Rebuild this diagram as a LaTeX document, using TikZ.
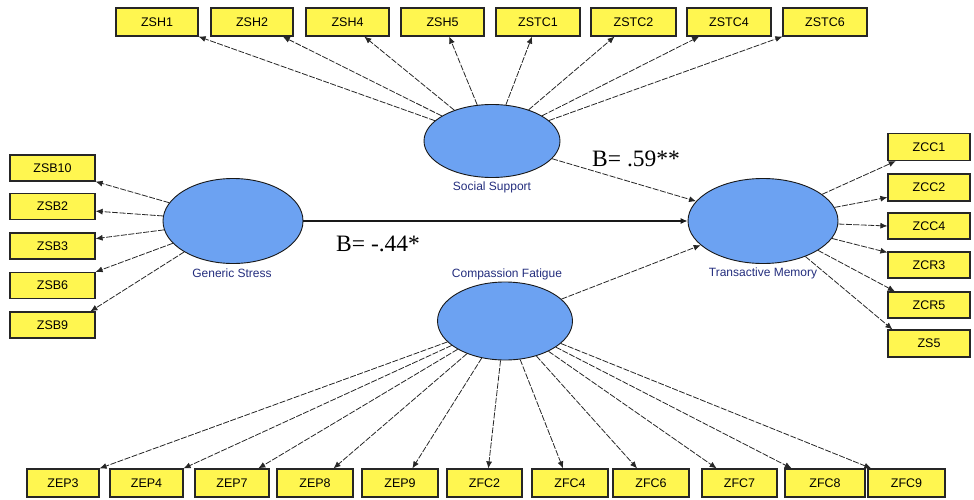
\documentclass[tikz,border=0pt]{standalone}
\usepackage{fontspec}
\setmainfont{Liberation Sans}
\newfontfamily\tnr{Liberation Serif}
\usetikzlibrary{arrows.meta,calc,shapes.geometric}
\definecolor{boxyellow}{RGB}{255,246,80}
\definecolor{ellblue}{RGB}{108,162,242}
\definecolor{lblnavy}{RGB}{35,45,125}
\begin{document}
\begin{tikzpicture}[x=1pt,y=-1pt,
  box/.style={draw=black!85, line width=1.2pt, fill=boxyellow, minimum height=27pt, inner sep=0pt, font=\fontsize{12.5}{12.5}\selectfont},
  lv/.style={draw=black!90, line width=0.9pt, fill=ellblue, ellipse, inner sep=0pt},
  lvlabel/.style={font=\fontsize{12}{12}\selectfont, text=lblnavy, inner sep=0pt},
  coef/.style={font=\tnr\fontsize{23.5}{23.5}\selectfont, inner sep=0pt, anchor=base west},
  ld/.style={draw=black!85, line width=0.8pt, dash pattern=on 6pt off 1.5pt, -{Latex[length=7pt,width=6pt]}},
  path/.style={draw=black!85, line width=0.8pt, dash pattern=on 6pt off 1.5pt, -{Latex[length=7pt,width=6pt]}},
  solidpath/.style={draw=black!90, line width=1.1pt, -{Latex[length=7pt,width=6pt]}}
]
\useasboundingbox (0,0) rectangle (974,500);

% latent variables
\node[lv, minimum width=136pt, minimum height=73pt] (ss) at (492,141) {};
\node[lv, minimum width=140pt, minimum height=85pt] (gs) at (233,221) {};
\node[lv, minimum width=150pt, minimum height=85pt] (tm) at (763,221) {};
\node[lv, minimum width=135pt, minimum height=78pt] (cf) at (505,321) {};

\node[lvlabel] (ssl) at (492,187) {Social Support};
\node[lvlabel] (gsl) at (232,273) {Generic Stress};
\node[lvlabel] (tml) at (763,273) {Transactive Memory};
\node[lvlabel] (cfl) at (507,274) {Compassion Fatigue};

% top indicators
\node[box, minimum width=82pt, minimum height=28pt] (zsh1) at (157,22) {ZSH1};
\node[box, minimum width=82pt, minimum height=28pt] (zsh2) at (252,22) {ZSH2};
\node[box, minimum width=83pt, minimum height=28pt] (zsh4) at (347.5,22) {ZSH4};
\node[box, minimum width=83pt, minimum height=28pt] (zsh5) at (442.5,22) {ZSH5};
\node[box, minimum width=84pt, minimum height=28pt] (zstc1) at (538,22) {ZSTC1};
\node[box, minimum width=85pt, minimum height=28pt] (zstc2) at (633.5,22) {ZSTC2};
\node[box, minimum width=84pt, minimum height=28pt] (zstc4) at (729,22) {ZSTC4};
\node[box, minimum width=84pt, minimum height=28pt] (zstc6) at (825,22) {ZSTC6};

% left indicators
\node[box, minimum width=85pt, minimum height=26pt] (zsb10) at (52.5,168) {ZSB10};
\node[box, minimum width=85pt, minimum height=26pt] (zsb2) at (52.5,206.5) {ZSB2};
\node[box, minimum width=85pt, minimum height=26pt] (zsb3) at (52.5,246) {ZSB3};
\node[box, minimum width=85pt, minimum height=26pt] (zsb6) at (52.5,285.5) {ZSB6};
\node[box, minimum width=85pt, minimum height=26pt] (zsb9) at (52.5,325) {ZSB9};

% right indicators
\node[box, minimum width=82pt, minimum height=27pt] (zcc1) at (929,147) {ZCC1};
\node[box, minimum width=82pt, minimum height=27pt] (zcc2) at (929,187.5) {ZCC2};
\node[box, minimum width=82pt, minimum height=26pt] (zcc4) at (929,226) {ZCC4};
\node[box, minimum width=82pt, minimum height=26pt] (zcr3) at (929,265) {ZCR3};
\node[box, minimum width=82pt, minimum height=26pt] (zcr5) at (929,305) {ZCR5};
\node[box, minimum width=82pt, minimum height=27pt] (zs5) at (929,343.5) {ZS5};

% bottom indicators
\node[box, minimum width=72pt, minimum height=28pt] (zep3) at (63,483) {ZEP3};
\node[box, minimum width=73pt, minimum height=28pt] (zep4) at (146.5,483) {ZEP4};
\node[box, minimum width=74pt, minimum height=28pt] (zep7) at (232,483) {ZEP7};
\node[box, minimum width=76pt, minimum height=28pt] (zep8) at (315,483) {ZEP8};
\node[box, minimum width=76pt, minimum height=28pt] (zep9) at (400,483) {ZEP9};
\node[box, minimum width=75pt, minimum height=28pt] (zfc2) at (484.5,483) {ZFC2};
\node[box, minimum width=76pt, minimum height=28pt] (zfc4) at (570,483) {ZFC4};
\node[box, minimum width=76pt, minimum height=28pt] (zfc6) at (651,483) {ZFC6};
\node[box, minimum width=75pt, minimum height=28pt] (zfc7) at (739.5,483) {ZFC7};
\node[box, minimum width=80pt, minimum height=28pt] (zfc8) at (825,483) {ZFC8};
\node[box, minimum width=77pt, minimum height=28pt] (zfc9) at (906.5,483) {ZFC9};

% structural paths
\draw[solidpath] (gs) -- (tm);
\draw[path] (ss) -- (tm);
\draw[path] (cf) -- (tm);
\node[coef] (b1) at (592,166) {B= .59**};
\node[coef] (b2) at (336,251) {B= -.44*};

% social support loadings
\draw[ld] (ss) -- ($(zsh1.south west)!1.0!(zsh1.south east)$);
\draw[ld] (ss) -- ($(zsh2.south west)!0.87!(zsh2.south east)$);
\draw[ld] (ss) -- ($(zsh4.south west)!0.7!(zsh4.south east)$);
\draw[ld] (ss) -- ($(zsh5.south west)!0.58!(zsh5.south east)$);
\draw[ld] (ss) -- ($(zstc1.south west)!0.43!(zstc1.south east)$);
\draw[ld] (ss) -- ($(zstc2.south west)!0.28!(zstc2.south east)$);
\draw[ld] (ss) -- ($(zstc4.south west)!0.15!(zstc4.south east)$);
\draw[ld] (ss) -- ($(zstc6.south west)!0.0!(zstc6.south east)$);

% generic stress loadings
\draw[ld] (gs) -- (zsb10.south east);
\draw[ld] (gs) -- ($(zsb2.north east)!0.67!(zsb2.south east)$);
\draw[ld] (gs) -- ($(zsb3.north east)!0.23!(zsb3.south east)$);
\draw[ld] (gs) -- (zsb6.north east);
\draw[ld] (gs) -- ($(zsb9.north west)!0.94!(zsb9.north east)$);

% transactive memory loadings
\draw[ld] (tm) -- ($(zcc1.south west)!0.1!(zcc1.south east)$);
\draw[ld] (tm) -- ($(zcc2.north west)!0.85!(zcc2.south west)$);
\draw[ld] (tm) -- (zcc4.west);
\draw[ld] (tm) -- ($(zcr3.north west)!0.04!(zcr3.south west)$);
\draw[ld] (tm) -- ($(zcr5.north west)!0.09!(zcr5.north east)$);
\draw[ld] (tm) -- ($(zs5.north west)!0.06!(zs5.north east)$);

% compassion fatigue loadings
\draw[ld] (cf) -- (zep3.north east);
\draw[ld] (cf) -- (zep4.north east);
\draw[ld] (cf) -- ($(zep7.north west)!0.85!(zep7.north east)$);
\draw[ld] (cf) -- ($(zep8.north west)!0.74!(zep8.north east)$);
\draw[ld] (cf) -- ($(zep9.north west)!0.66!(zep9.north east)$);
\draw[ld] (cf) -- ($(zfc2.north west)!0.55!(zfc2.north east)$);
\draw[ld] (cf) -- ($(zfc4.north west)!0.41!(zfc4.north east)$);
\draw[ld] (cf) -- ($(zfc6.north west)!0.32!(zfc6.north east)$);
\draw[ld] (cf) -- ($(zfc7.north west)!0.2!(zfc7.north east)$);
\draw[ld] (cf) -- ($(zfc8.north west)!0.09!(zfc8.north east)$);
\draw[ld] (cf) -- ($(zfc9.north west)!0.05!(zfc9.north east)$);
\end{tikzpicture}
\end{document}
